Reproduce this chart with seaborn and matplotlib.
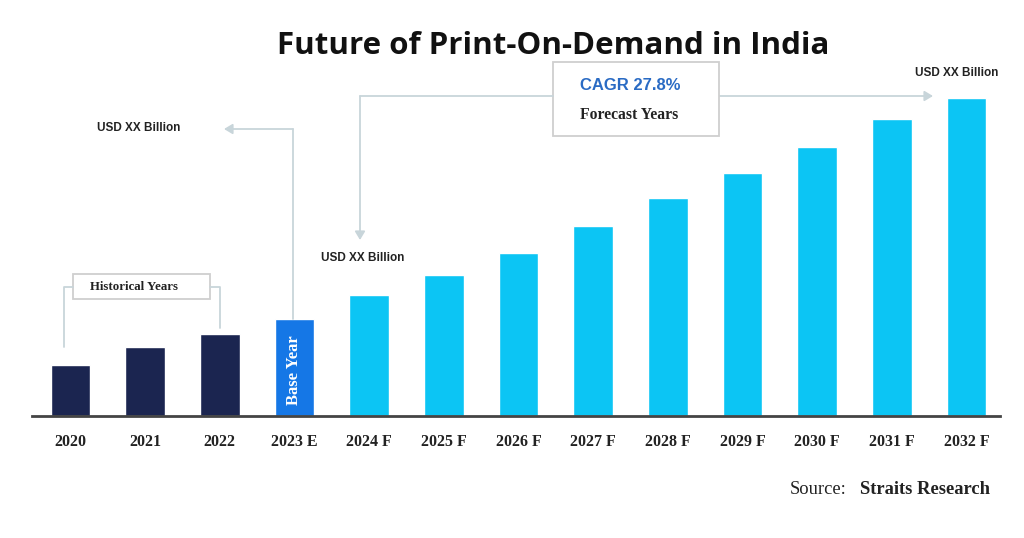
import matplotlib
matplotlib.use("Agg")
import matplotlib.pyplot as plt
import seaborn as sns
import pandas as pd
from matplotlib.patches import Rectangle, FancyArrowPatch

# ---- data ----
years = ["2020", "2021", "2022", "2023 E", "2024 F", "2025 F", "2026 F",
         "2027 F", "2028 F", "2029 F", "2030 F", "2031 F", "2032 F"]
values = [51, 69, 82, 97, 121, 141, 163, 190, 218, 243, 269, 297, 318]
periods = ["Historical"] * 3 + ["Base"] + ["Forecast"] * 9
palette = {"Historical": "#1b2550", "Base": "#1577e6", "Forecast": "#0cc5f4"}

title = "Future of Print-On-Demand in India"
cagr_text = "CAGR 27.8%"
value_label = "USD XX Billion"

df = pd.DataFrame({"year": years, "value": values, "period": periods})

sns.set_theme(style="white")
W, H = 1024, 538
fig = plt.figure(figsize=(W / 100, H / 100), dpi=100)
fig.patch.set_facecolor("white")


def P(x, y):
    """pixel (from top-left) -> figure fraction"""
    return (x / W, 1 - y / H)


ax_left, ax_right, ax_base, ax_top = 32, 1000, 416, 40
ax = fig.add_axes([ax_left / W, (H - ax_base) / H,
                   (ax_right - ax_left) / W, (ax_base - ax_top) / H])

sns.barplot(data=df, x="year", y="value", hue="period", palette=palette,
            dodge=False, width=0.53, legend=False, saturation=1, ax=ax)
ax.set_xlim(-0.516, 12.45)
ax.set_ylim(0, ax_base - ax_top)
ax.set_xlabel("")
ax.set_ylabel("")
ax.set_yticks([])
for s in ["top", "right", "left"]:
    ax.spines[s].set_visible(False)
ax.spines["bottom"].set_color("#444444")
ax.spines["bottom"].set_linewidth(2)
ax.tick_params(axis="x", length=0, pad=13)
for lbl in ax.get_xticklabels():
    lbl.set_fontfamily("Liberation Serif")
    lbl.set_fontweight("bold")
    lbl.set_fontsize(11.5)
    lbl.set_color("#222222")
ax.patch.set_alpha(0)

# Base year label inside bar
ax.text(3, 46, "Base Year", rotation=90, ha="center", va="center",
        color="white", fontfamily="Liberation Serif", fontweight="bold",
        fontsize=12)

# ---- title ----
fig.text(*P(553, 46), title, ha="center", va="center",
         fontfamily="Open Sans", fontweight="bold", fontsize=22.5,
         color="#111111")

line_c = "#c8d5da"
arrow_kw = dict(transform=fig.transFigure,
                arrowstyle="-|>,head_length=5,head_width=3", color=line_c,
                lw=1.3, shrinkA=0, shrinkB=0)


def line(pts):
    xs = [P(*p)[0] for p in pts]
    ys = [P(*p)[1] for p in pts]
    fig.add_artist(plt.Line2D(xs, ys, transform=fig.transFigure,
                              color=line_c, lw=1.3))


label_kw = dict(fontfamily="Liberation Sans", fontweight="bold",
                fontsize=8.5, color="#222222", ha="left", va="center")

# base year arrow
line([(293, 319), (293, 129)])
fig.add_artist(FancyArrowPatch(P(293, 129), P(224, 129), **arrow_kw))
fig.text(*P(97, 128), value_label, **label_kw)

# forecast arrows
line([(360, 96), (553, 96)])
fig.add_artist(FancyArrowPatch(P(360, 96), P(360, 240), **arrow_kw))
fig.add_artist(FancyArrowPatch(P(719, 96), P(933, 96), **arrow_kw))
fig.text(*P(321, 258), value_label, **label_kw)
fig.text(*P(915, 73), value_label, **label_kw)

# CAGR box
fig.add_artist(Rectangle(P(553, 136), (719 - 553) / W, (136 - 62) / H,
                         transform=fig.transFigure, facecolor="white",
                         edgecolor="#cfcfcf", lw=1.3))
fig.text(*P(580, 85), cagr_text, ha="left", va="center",
         fontfamily="Liberation Sans", fontweight="bold", fontsize=12,
         color="#2a6bc4")
fig.text(*P(580, 115), "Forecast Years", ha="left", va="center",
         fontfamily="Liberation Serif", fontweight="bold", fontsize=11.3,
         color="#222222")

# Historical bracket
line([(64, 347), (64, 287), (73, 287)])
line([(210, 287), (220, 287), (220, 328)])
fig.add_artist(Rectangle(P(73, 299), (210 - 73) / W, (299 - 274) / H,
                         transform=fig.transFigure, facecolor="white",
                         edgecolor="#cfcfcf", lw=1.3))
fig.text(*P(134, 287), "Historical Years", ha="center", va="center",
         fontfamily="Liberation Serif", fontweight="bold", fontsize=9.3,
         color="#222222")

# Source
fig.text(*P(790, 490), "Source:", ha="left", va="center",
         fontfamily="Liberation Serif", fontsize=13.3, color="#222222")
fig.text(*P(860, 490), "Straits Research", ha="left", va="center",
         fontfamily="Liberation Serif", fontweight="bold", fontsize=13.3,
         color="#222222")

fig.savefig("out.png", dpi=100, facecolor="white")
